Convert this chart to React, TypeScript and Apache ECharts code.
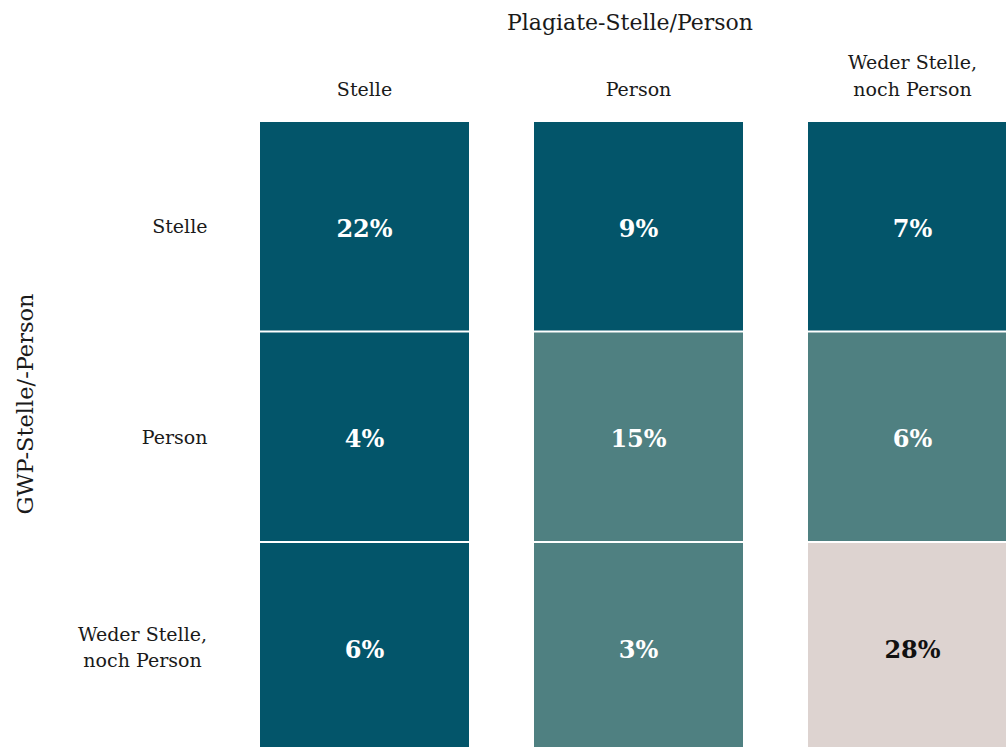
import React, { useEffect, useRef } from "react";
import * as echarts from "echarts";

const colCategories = ["Stelle", "Person", "Weder Stelle,\nnoch Person"];
const rowCategories = ["Stelle", "Person", "Weder Stelle,\nnoch Person"];
// values[row][col] in %
const rowStelle = [22, 9, 7];
const rowPerson = [4, 15, 6];
const rowWeder = [6, 3, 28];
// colour class per cell: 0 = dark, 1 = medium, 2 = light
const classStelle = [0, 0, 0];
const classPerson = [0, 1, 1];
const classWeder = [0, 1, 2];
const xTitle = "Plagiate-Stelle/Person";
const yTitle = "GWP-Stelle/-Person";

const palette = ["#03556A", "#4F8081", "#DDD3D0"];
const labelColors = ["#FFFFFF", "#FFFFFF", "#111111"];
const FONT = "DejaVu Serif";

export default function App() {
  const ref = useRef<HTMLDivElement>(null);
  useEffect(() => {
    if (!ref.current) return;
    const chart = echarts.init(ref.current, undefined, { renderer: "svg" });
    const rows = [rowStelle, rowPerson, rowWeder];
    const classes = [classStelle, classPerson, classWeder];
    const data: any[] = [];
    rows.forEach((r, ri) =>
      r.forEach((v, ci) => {
        data.push({ value: [ci, ri, v, classes[ri][ci]] });
      })
    );
    chart.setOption({
      animation: false,
      grid: {
        left: 227.5,
        top: 121,
        width: 822,
        height: 631.5,
        containLabel: false,
        outerBoundsMode: "none",
      },
      xAxis: {
        type: "category",
        position: "top",
        data: colCategories,
        axisLine: { show: false },
        axisTick: { show: false },
        splitLine: { show: false },
        axisLabel: {
          margin: 19,
          fontFamily: FONT,
          fontSize: 19,
          color: "#1a1a1a",
          lineHeight: 27,
          align: "center",
        },
      },
      yAxis: {
        type: "category",
        inverse: true,
        data: rowCategories,
        axisLine: { show: false },
        axisTick: { show: false },
        splitLine: { show: false },
        axisLabel: {
          margin: 20,
          fontFamily: FONT,
          fontSize: 19,
          color: "#1a1a1a",
          lineHeight: 26,
          align: "right",
          formatter: (v: string) => (v.indexOf("\n") >= 0 ? "{c|" + v + "}" : v),
          rich: {
            c: {
              width: 130,
              align: "center",
              fontFamily: FONT,
              fontSize: 19,
              color: "#1a1a1a",
              lineHeight: 26,
            },
          },
        },
      },
      graphic: [
        {
          type: "text",
          x: 630,
          y: 22,
          style: {
            text: xTitle,
            fontFamily: FONT,
            fontSize: 22,
            fill: "#1a1a1a",
            textAlign: "center",
            textVerticalAlign: "middle",
          },
        },
        {
          type: "text",
          x: 25,
          y: 404,
          rotation: Math.PI / 2,
          style: {
            text: yTitle,
            fontFamily: FONT,
            fontSize: 22.5,
            fill: "#1a1a1a",
            textAlign: "center",
            textVerticalAlign: "middle",
          },
        },
      ],
      series: [
        {
          type: "custom",
          clip: false,
          data,
          renderItem: (params: any, api: any) => {
            const x = api.value(0);
            const y = api.value(1);
            const v = api.value(2);
            const cls = api.value(3);
            const c = api.coord([x, y]);
            const s = api.size([1, 1]);
            const w = s[0] * (209 / 274);
            const h = s[1] - 2;
            return {
              type: "group",
              children: [
                {
                  type: "rect",
                  shape: { x: c[0] - w / 2, y: c[1] - h / 2, width: w, height: h },
                  style: { fill: palette[cls] },
                },
                {
                  type: "text",
                  x: c[0],
                  y: c[1] + 2,
                  style: {
                    text: v + "%",
                    fontFamily: FONT,
                    fontWeight: "bold",
                    fontSize: 24,
                    fill: labelColors[cls],
                    textAlign: "center",
                    textVerticalAlign: "middle",
                  },
                },
              ],
            };
          },
        },
      ],
    });
    return () => chart.dispose();
  }, []);
  return (
    <div
      ref={ref}
      style={{ position: "fixed", left: 0, top: 0, width: 1006, height: 747, background: "#fff" }}
    />
  );
}
